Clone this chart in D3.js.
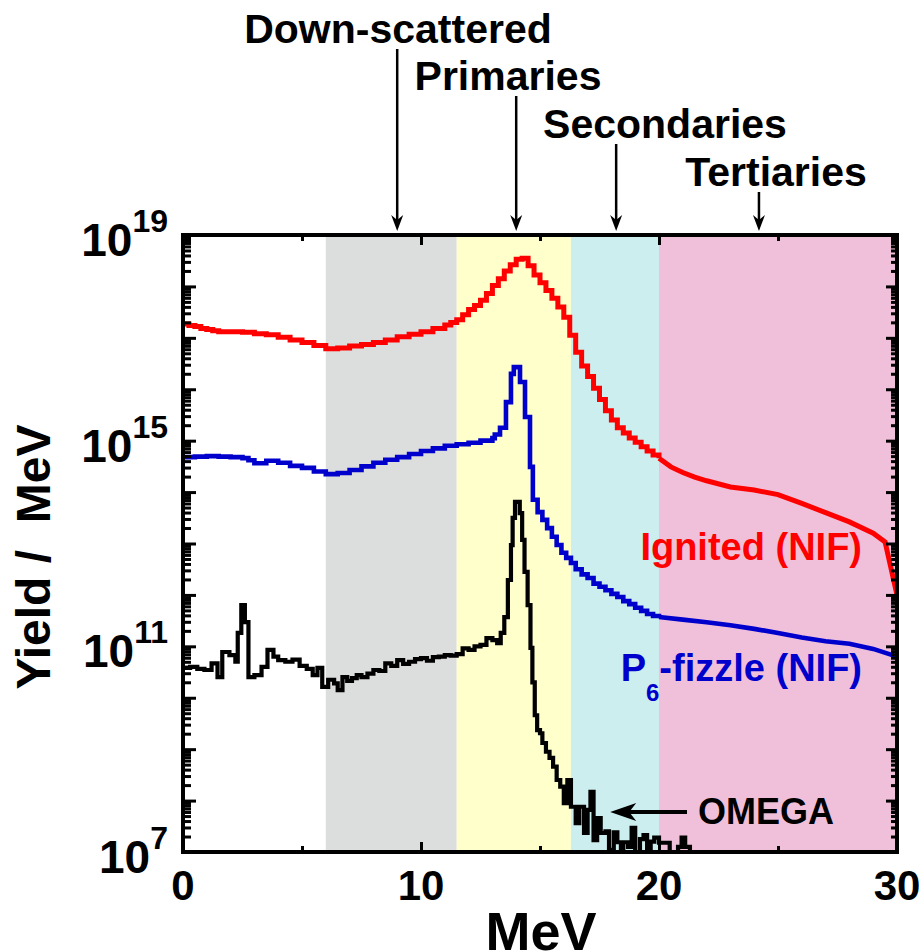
<!DOCTYPE html>
<html>
<head>
<meta charset="utf-8">
<title>Neutron spectra</title>
<script src="https://cdn.jsdelivr.net/npm/d3@7/dist/d3.min.js"></script>
<style>
  body { margin: 0; background: #fff; }
  text { font-family: "Liberation Sans", Arial, sans-serif; font-weight: bold; }
</style>
</head>
<body>
<div id="chart"></div>
<script>
// energy bands (MeV)
var bandNames = ["down", "primary", "secondary", "tertiary"];
var bandStart = [6, 11.5, 16.3, 20];
var bandEnd = [11.5, 16.3, 20, 30];
var bandColors = ["#dcdddd", "#ffffcc", "#cceeee", "#f0c0da"];

// annotations above the plot
var noteLabels = ["Down-scattered", "Primaries", "Secondaries", "Tertiaries"];
var noteEnergy = [9, 14, 18.2, 24.2];

// Ignited (NIF): energy (MeV) and log10(yield / MeV)
var redE = [0, 0.25, 0.5, 0.75, 1, 1.25, 1.5, 2, 2.5, 3, 3.5, 4, 4.5, 5, 5.5, 6, 6.5, 7, 7.5, 8, 8.5, 9, 9.5, 10,
  10.5, 11, 11.25, 11.5, 11.75, 12, 12.25, 12.5, 12.75, 13, 13.25, 13.5, 13.75, 14, 14.25, 14.5, 14.75, 15,
  15.25, 15.5, 15.75, 16, 16.25, 16.5, 16.75, 17, 17.25, 17.5, 17.75, 18, 18.25, 18.5, 18.75, 19, 19.25,
  19.5, 19.75, 20];
var redLog = [17.27, 17.24, 17.22, 17.18, 17.16, 17.14, 17.12, 17.12, 17.11, 17.08, 17.06, 17.01, 16.96, 16.91,
  16.85, 16.79, 16.80, 16.84, 16.87, 16.91, 16.96, 17.02, 17.07, 17.12, 17.18, 17.25, 17.30, 17.35, 17.45,
  17.55, 17.63, 17.73, 17.86, 18.02, 18.15, 18.30, 18.42, 18.53, 18.55, 18.40, 18.22, 18.07, 17.92, 17.77,
  17.60, 17.40, 17.05, 16.72, 16.45, 16.25, 16.02, 15.80, 15.58, 15.40, 15.25, 15.15, 15.05, 14.97, 14.88,
  14.80, 14.72, 14.66];
var redTailE = [20, 20.5, 21, 21.5, 22, 23, 24, 25, 26, 27, 28, 29, 29.5, 30];
var redTailLog = [14.66, 14.49, 14.38, 14.29, 14.22, 14.10, 14.04, 13.95, 13.78, 13.60, 13.42, 13.20, 13.03, 12.0];

// P6-fizzle (NIF)
var blueE = [0, 0.5, 1, 1.5, 2, 2.5, 2.75, 3, 3.5, 4, 4.5, 5, 5.5, 6, 6.5, 7, 7.5, 8, 8.5, 9, 9.5, 10, 10.5,
  11, 11.5, 12, 12.5, 13, 13.1, 13.32, 13.57, 13.78, 13.9, 14.16, 14.37, 14.58, 14.7, 14.9, 15.1, 15.3, 15.5,
  15.7, 15.9, 16.1, 16.3, 16.5, 16.75, 17, 17.25, 17.5, 17.75, 18, 18.25, 18.5, 18.75, 19, 19.25, 19.5,
  19.75, 20];
var blueLog = [14.68, 14.69, 14.70, 14.69, 14.68, 14.66, 14.62, 14.56, 14.61, 14.57, 14.51, 14.47, 14.40, 14.35,
  14.37, 14.43, 14.50, 14.57, 14.63, 14.68, 14.74, 14.80, 14.85, 14.90, 14.93, 14.96, 15.00, 15.05, 15.12,
  15.25, 15.75, 16.30, 16.43, 16.14, 15.46, 14.49, 13.85, 13.61, 13.46, 13.30, 13.13, 12.97, 12.82, 12.72,
  12.62, 12.50, 12.40, 12.33, 12.22, 12.16, 12.09, 12.02, 11.96, 11.88, 11.82, 11.75, 11.69, 11.63, 11.59,
  11.57];
var blueTailE = [20, 21, 22, 23, 24, 25, 26, 27, 28, 29, 30];
var blueTailLog = [11.57, 11.52, 11.47, 11.41, 11.34, 11.26, 11.17, 11.10, 11.05, 10.95, 10.80];

// OMEGA
var blackE = [0, 0.3, 0.6, 0.9, 1.2, 1.45, 1.65, 1.95, 2.2, 2.3, 2.45, 2.6, 2.75, 3, 3.3, 3.55, 3.8, 4, 4.3,
  4.6, 4.9, 5.2, 5.45, 5.65, 5.85, 6.1, 6.35, 6.5, 6.7, 6.9, 7.1, 7.3, 7.5, 7.75, 8, 8.25, 8.5, 8.75, 9,
  9.25, 9.5, 9.75, 10, 10.25, 10.5, 10.75, 11, 11.25, 11.5, 11.75, 12, 12.25, 12.5, 12.75, 13, 13.2, 13.35,
  13.5, 13.65, 13.78, 13.85, 13.95, 14.15, 14.25, 14.35, 14.48, 14.6, 14.68, 14.78, 14.88, 15, 15.1, 15.25,
  15.4, 15.55, 15.7, 15.85, 16, 16.15, 16.3, 16.5, 16.65, 16.85, 17, 17.12, 17.25, 17.4, 17.55, 17.75, 17.9,
  18.1, 18.25, 18.4, 18.5, 18.7, 18.85, 19, 19.2, 19.35, 19.5, 19.65, 19.8, 20, 20.3, 20.45, 20.8, 20.95,
  21.1, 21.3];
var blackLog = [10.58, 10.60, 10.56, 10.54, 10.67, 10.40, 10.89, 10.83, 10.70, 11.26, 11.80, 11.47, 10.40, 10.44,
  10.60, 10.93, 10.80, 10.73, 10.70, 10.74, 10.62, 10.56, 10.44, 10.58, 10.21, 10.35, 10.28, 10.15, 10.40,
  10.33, 10.38, 10.44, 10.40, 10.47, 10.54, 10.52, 10.67, 10.62, 10.73, 10.66, 10.70, 10.75, 10.77, 10.72,
  10.79, 10.80, 10.83, 10.82, 10.85, 10.96, 10.93, 11.00, 11.03, 11.16, 11.12, 11.06, 11.26, 11.57, 12.29,
  12.97, 13.50, 13.81, 13.59, 13.07, 12.45, 11.80, 10.97, 10.30, 9.66, 9.37, 9.31, 9.12, 8.95, 8.83, 8.66,
  8.40, 8.27, 7.95, 8.40, 7.88, 7.56, 7.88, 7.37, 7.82, 8.17, 7.23, 7.66, 7.37, 7.40, 7.04, 7.38, 7.19, 6.9,
  7.19, 7.10, 7.47, 6.9, 7.25, 7.33, 6.9, 7.20, 7.28, 7.18, 7.18, 6.8, 7.10, 7.28, 7.10, 6.5];

// y tick labels (exponents)
var yLabelExp = [19, 15, 11, 7];
var xLabelVals = [0, 10, 20, 30];

var width = 924, height = 952;
var plotLeft = 183, plotRight = 897, plotTop = 235, plotBottom = 852;

var svg = d3.select("#chart").append("svg")
  .attr("width", width)
  .attr("height", height);

var x = d3.scaleLinear().domain([0, 30]).range([plotLeft, plotRight]);
var y = d3.scaleLog().domain([1e7, 1e19]).range([plotBottom, plotTop]);

svg.append("defs").append("clipPath").attr("id", "plot")
  .append("rect").attr("x", plotLeft).attr("y", plotTop)
  .attr("width", plotRight - plotLeft).attr("height", plotBottom - plotTop);

// bands
svg.append("g").selectAll("rect")
  .data(bandNames)
  .enter().append("rect")
  .attr("x", function (d, i) { return x(bandStart[i]); })
  .attr("y", plotTop)
  .attr("width", function (d, i) { return x(bandEnd[i]) - x(bandStart[i]); })
  .attr("height", plotBottom - plotTop)
  .style("fill", function (d, i) { return bandColors[i]; });

// curves
function pts(es, ls) {
  return es.map(function (e, i) { return [e, Math.pow(10, ls[i])]; });
}
var stepLine = d3.line()
  .x(function (d) { return x(d[0]); })
  .y(function (d) { return y(d[1]); })
  .curve(d3.curveStepAfter);
var smoothLine = d3.line()
  .x(function (d) { return x(d[0]); })
  .y(function (d) { return y(d[1]); });

var curves = svg.append("g").attr("clip-path", "url(#plot)")
  .style("fill", "none").style("stroke-width", 5).style("stroke-linejoin", "miter");

curves.append("path").attr("d", stepLine(pts(blackE, blackLog))).style("stroke", "#000").style("stroke-width", 4.2);
curves.append("path").attr("d", stepLine(pts(blueE, blueLog))).style("stroke", "#0000cc").style("stroke-width", 4.6);
curves.append("path").attr("d", smoothLine(pts(blueTailE, blueTailLog))).style("stroke", "#0000cc").style("stroke-width", 4.6);
curves.append("path").attr("d", stepLine(pts(redE, redLog))).style("stroke", "#ff0000");
curves.append("path").attr("d", smoothLine(pts(redTailE, redTailLog))).style("stroke", "#ff0000");

// axes
var decades = d3.range(7, 19);
var minorVals = [];
decades.forEach(function (p) {
  for (var k = 2; k <= 9; k++) minorVals.push(k * Math.pow(10, p));
});
var majorVals = d3.range(7, 20).map(function (p) { return Math.pow(10, p); });

function styleAxis(g) {
  g.select(".domain").remove();
  g.selectAll("line").style("stroke", "#000").style("stroke-width", 3);
}

svg.append("g").attr("transform", "translate(" + plotLeft + ",0)")
  .call(d3.axisLeft(y).tickValues(majorVals).tickSize(-13).tickFormat("")).call(styleAxis);
svg.append("g").attr("transform", "translate(" + plotLeft + ",0)")
  .call(d3.axisLeft(y).tickValues(minorVals).tickSize(-8).tickFormat("")).call(styleAxis);
svg.append("g").attr("transform", "translate(" + plotRight + ",0)")
  .call(d3.axisRight(y).tickValues(majorVals).tickSize(-11).tickFormat("")).call(styleAxis);
svg.append("g").attr("transform", "translate(" + plotRight + ",0)")
  .call(d3.axisRight(y).tickValues(minorVals).tickSize(-6).tickFormat("")).call(styleAxis);

svg.append("g").attr("transform", "translate(0," + plotBottom + ")")
  .call(d3.axisBottom(x).tickValues([10, 20]).tickSize(-10).tickFormat("")).call(styleAxis);
svg.append("g").attr("transform", "translate(0," + plotBottom + ")")
  .call(d3.axisBottom(x).tickValues([5, 15, 25]).tickSize(-6).tickFormat("")).call(styleAxis);
svg.append("g").attr("transform", "translate(0," + plotTop + ")")
  .call(d3.axisTop(x).tickValues([10, 20]).tickSize(-10).tickFormat("")).call(styleAxis);
svg.append("g").attr("transform", "translate(0," + plotTop + ")")
  .call(d3.axisTop(x).tickValues([5, 15, 25]).tickSize(-6).tickFormat("")).call(styleAxis);

// frame
svg.append("rect")
  .attr("x", plotLeft).attr("y", plotTop)
  .attr("width", plotRight - plotLeft).attr("height", plotBottom - plotTop)
  .style("fill", "none").style("stroke", "#000").style("stroke-width", 4);

// y tick labels
var yl = svg.append("g").selectAll("text")
  .data(yLabelExp)
  .enter().append("text")
  .attr("x", 168)
  .attr("y", function (d) { return y(Math.pow(10, d)) + 21; })
  .attr("text-anchor", "end")
  .style("font-size", "46px");
yl.append("tspan").text("10");
yl.append("tspan").attr("dy", -24).style("font-size", "32px").text(function (d) { return d; });

// x tick labels
svg.append("g").selectAll("text")
  .data(xLabelVals)
  .enter().append("text")
  .attr("x", function (d) { return x(d); })
  .attr("y", 900)
  .attr("text-anchor", "middle")
  .style("font-size", "42px")
  .text(function (d) { return d; });

// axis titles
svg.append("text")
  .attr("x", 541).attr("y", 950)
  .attr("text-anchor", "middle")
  .style("font-size", "54px")
  .text("MeV");
svg.append("text")
  .attr("transform", "translate(50," + 557 + ") rotate(-90)")
  .attr("text-anchor", "middle")
  .style("font-size", "48px")
  .attr("xml:space", "preserve")
  .text("Yield /  MeV");

// annotations with arrows
var noteCx = [398, 508, 665, 776];
var noteBase = [43, 90, 138, 186];
svg.append("g").selectAll("text")
  .data(noteLabels)
  .enter().append("text")
  .attr("x", function (d, i) { return noteCx[i]; })
  .attr("y", function (d, i) { return noteBase[i]; })
  .attr("text-anchor", "middle")
  .style("font-size", "41px")
  .text(function (d) { return d; });

var arrows = svg.append("g");
noteEnergy.forEach(function (e, i) {
  var ax = x(e), y0 = noteBase[i] + 6, y1 = plotTop - 4;
  arrows.append("line")
    .attr("x1", ax).attr("x2", ax).attr("y1", y0).attr("y2", y1 - 10)
    .style("stroke", "#000").style("stroke-width", 2.5);
  arrows.append("path")
    .attr("d", "M" + (ax - 6) + "," + (y1 - 16) + "L" + ax + "," + y1 + "L" + (ax + 6) + "," + (y1 - 16) +
      "L" + ax + "," + (y1 - 11) + "Z")
    .style("fill", "#000");
});

// series labels
svg.append("text")
  .attr("x", 862).attr("y", 560)
  .attr("text-anchor", "end")
  .style("font-size", "38px").style("fill", "#ff0000")
  .text("Ignited (NIF)");

var p6 = svg.append("text")
  .attr("x", 862).attr("y", 681)
  .attr("text-anchor", "end")
  .style("font-size", "38px").style("fill", "#0000cc");
p6.append("tspan").text("P");
p6.append("tspan").attr("dy", 20).style("font-size", "24px").text("6");
p6.append("tspan").attr("dy", -20).text("-fizzle (NIF)");

// OMEGA label and arrow
var ay = 812, ax0 = x(17.95);
svg.append("line")
  .attr("x1", ax0 + 14).attr("x2", 687).attr("y1", ay).attr("y2", ay)
  .style("stroke", "#000").style("stroke-width", 4);
svg.append("path")
  .attr("d", "M" + ax0 + "," + ay + "L" + (ax0 + 26) + "," + (ay - 9) + "L" + (ax0 + 19) + "," + ay +
    "L" + (ax0 + 26) + "," + (ay + 9) + "Z")
  .style("fill", "#000");
svg.append("text")
  .attr("x", 698).attr("y", 824)
  .style("font-size", "36px")
  .text("OMEGA");
</script>
</body>
</html>
